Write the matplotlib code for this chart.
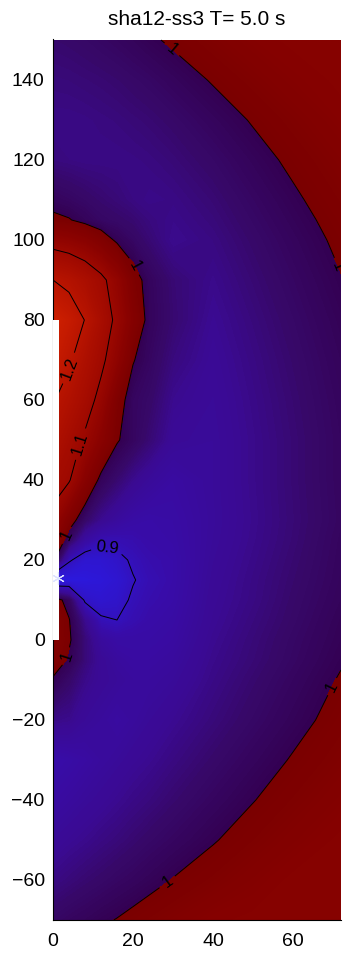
import numpy as np
import matplotlib
matplotlib.use("Agg")
import matplotlib.pyplot as plt
from matplotlib.colors import LinearSegmentedColormap
from matplotlib.patches import Rectangle

plt.rcParams['font.family'] = ['Liberation Sans', 'DejaVu Sans']

# grid of the field (rows follow y_grid, columns x_grid)
x_grid = [0, 4, 8, 12, 16, 20, 24, 30, 40, 50, 60, 72]
y_grid = [-70, -60, -50, -40, -30, -20, -10, -5, 0, 5, 10, 15, 20, 25, 30,
          40, 50, 60, 70, 80, 90, 100, 105, 110, 120, 130, 140, 150]

row_m70 = [0.979, 0.985, 0.990, 0.996, 1.001, 1.007, 1.013, 1.021, 1.035, 1.040, 1.040, 1.040]
row_m60 = [0.958, 0.964, 0.970, 0.975, 0.981, 0.986, 0.992, 1.001, 1.014, 1.028, 1.040, 1.040]
row_m50 = [0.942, 0.948, 0.953, 0.959, 0.964, 0.970, 0.976, 0.984, 0.998, 1.012, 1.026, 1.040]
row_m40 = [0.929, 0.934, 0.940, 0.945, 0.951, 0.957, 0.962, 0.971, 0.985, 0.999, 1.013, 1.029]
row_m30 = [0.918, 0.923, 0.929, 0.935, 0.940, 0.946, 0.951, 0.960, 0.974, 0.988, 1.002, 1.018]
row_m20 = [0.956, 0.953, 0.942, 0.937, 0.931, 0.936, 0.942, 0.950, 0.964, 0.978, 0.992, 1.009]
row_m10 = [0.995, 0.975, 0.955, 0.945, 0.940, 0.935, 0.935, 0.940, 0.957, 0.971, 0.985, 1.002]
row_m5 = [1.025, 0.995, 0.965, 0.945, 0.935, 0.930, 0.930, 0.935, 0.954, 0.967, 0.981, 0.998]
row_0 = [1.030, 1.005, 0.965, 0.935, 0.925, 0.925, 0.925, 0.930, 0.951, 0.965, 0.979, 0.995]
row_5 = [1.030, 1.002, 0.950, 0.905, 0.900, 0.912, 0.920, 0.926, 0.948, 0.962, 0.976, 0.993]
row_10 = [1.020, 0.985, 0.893, 0.882, 0.888, 0.905, 0.915, 0.922, 0.946, 0.959, 0.974, 0.990]
row_15 = [0.850, 0.860, 0.865, 0.870, 0.880, 0.898, 0.910, 0.920, 0.944, 0.958, 0.972, 0.988]
row_20 = [1.010, 0.905, 0.880, 0.880, 0.890, 0.905, 0.915, 0.920, 0.942, 0.956, 0.970, 0.987]
row_25 = [1.050, 0.980, 0.930, 0.910, 0.910, 0.915, 0.920, 0.923, 0.940, 0.954, 0.968, 0.986]
row_30 = [1.080, 1.020, 0.975, 0.950, 0.935, 0.925, 0.922, 0.925, 0.939, 0.953, 0.967, 0.984]
row_40 = [1.130, 1.105, 1.040, 0.990, 0.970, 0.952, 0.940, 0.930, 0.940, 0.954, 0.968, 0.985]
row_50 = [1.170, 1.130, 1.090, 1.045, 1.003, 0.985, 0.968, 0.944, 0.940, 0.954, 0.968, 0.985]
row_60 = [1.205, 1.170, 1.130, 1.080, 1.015, 0.985, 0.976, 0.952, 0.942, 0.956, 0.970, 0.987]
row_70 = [1.250, 1.210, 1.160, 1.115, 1.060, 1.002, 0.984, 0.962, 0.945, 0.959, 0.973, 0.990]
row_80 = [1.280, 1.245, 1.198, 1.140, 1.085, 1.030, 0.990, 0.970, 0.949, 0.963, 0.977, 0.994]
row_90 = [1.200, 1.180, 1.150, 1.115, 1.070, 1.015, 0.988, 0.968, 0.954, 0.968, 0.982, 0.999]
row_100 = [1.070, 1.060, 1.045, 1.020, 0.994, 0.980, 0.968, 0.952, 0.960, 0.974, 0.988, 1.005]
row_105 = [1.008, 1.002, 0.990, 0.980, 0.975, 0.970, 0.962, 0.955, 0.964, 0.978, 0.992, 1.0085]
row_110 = [0.988, 0.983, 0.977, 0.971, 0.966, 0.960, 0.956, 0.958, 0.968, 0.982, 0.996, 1.013]
row_120 = [0.962, 0.960, 0.958, 0.958, 0.958, 0.959, 0.961, 0.966, 0.977, 0.991, 1.005, 1.022]
row_130 = [0.958, 0.958, 0.959, 0.961, 0.963, 0.966, 0.969, 0.975, 0.988, 1.002, 1.016, 1.033]
row_140 = [0.964, 0.965, 0.967, 0.969, 0.972, 0.976, 0.980, 0.988, 1.002, 1.016, 1.030, 1.040]
row_150 = [0.972, 0.974, 0.977, 0.981, 0.985, 0.990, 0.996, 1.004, 1.018, 1.032, 1.040, 1.040]

field = np.array([row_m70, row_m60, row_m50, row_m40, row_m30, row_m20, row_m10, row_m5,
                  row_0, row_5, row_10, row_15, row_20, row_25, row_30, row_40, row_50,
                  row_60, row_70, row_80, row_90, row_100, row_105, row_110, row_120,
                  row_130, row_140, row_150])

line_levels = [0.9, 1.0, 1.1, 1.2]
label_spots = [(27.5, 145), (19.5, 93), (3.8, 26), (4.8, -4.5), (70.5, -12), (70.5, 93),
               (27.5, -59), (13.5, 23), (6.8, 49), (3.8, 68)]

wall_x = [0, 1.5]
wall_y = [0, 80]
source_x = 1.2
source_y = 15.5

title = 'sha12-ss3 T= 5.0 s'

# colours: blue below 1, red above 1, with a jump at 1
blue_stops = [(0.85, '#2a1ae6'), (0.89, '#3014c8'), (0.92, '#380ca8'), (0.95, '#3a0a92'),
              (0.975, '#370868'), (1.00, '#330052')]
red_stops = [(1.00, '#7a0000'), (1.05, '#8a0200'), (1.10, '#9c0800'), (1.20, '#b81400'), (1.30, '#d42200')]


def make_cmap(stops):
    lo, hi = stops[0][0], stops[-1][0]
    cmap = LinearSegmentedColormap.from_list('c', [((v - lo) / (hi - lo), c) for v, c in stops])
    return cmap, lo, hi


blue_cmap, b_lo, b_hi = make_cmap(blue_stops)
red_cmap, r_lo, r_hi = make_cmap(red_stops)

levels = np.linspace(0.8, 1.35, 221)
band_colors = []
for lo, hi in zip(levels[:-1], levels[1:]):
    mid = (lo + hi) / 2
    if mid < 1.0:
        band_colors.append(blue_cmap(np.clip((mid - b_lo) / (b_hi - b_lo), 0, 1)))
    else:
        band_colors.append(red_cmap(np.clip((mid - r_lo) / (r_hi - r_lo), 0, 1)))

fig = plt.figure(figsize=(3.47, 9.58), dpi=100)
ax = fig.add_axes([53 / 347, 38 / 958, 288 / 347, 881 / 958])

ax.contourf(x_grid, y_grid, field, levels=levels, colors=band_colors)
cs = ax.contour(x_grid, y_grid, field, levels=line_levels, colors='black', linewidths=0.7)
ax.clabel(cs, manual=label_spots, fmt=lambda v: f'{v:g}', fontsize=12, inline=True)

ax.add_patch(Rectangle((wall_x[0], wall_y[0]), wall_x[1] - wall_x[0], wall_y[1] - wall_y[0],
                       facecolor='white', edgecolor='none', zorder=3))
ax.plot([source_x], [source_y], marker=(6, 2, 0), color='#dde2ff', ms=9, mew=0.8, zorder=4)

ax.set_xlim(0, 72)
ax.set_ylim(-70, 150.25)
ax.set_xticks([0, 20, 40, 60])
ax.set_yticks(np.arange(-60, 141, 20))
ax.tick_params(length=0, labelsize=14)
ax.tick_params(axis='x', pad=9)
ax.tick_params(axis='y', pad=6)
for side in ['top', 'right']:
    ax.spines[side].set_visible(False)
for side in ['left', 'bottom']:
    ax.spines[side].set_linewidth(0.8)
ax.set_title(title, fontsize=15, pad=10)

fig.savefig('out.png', dpi=100)
